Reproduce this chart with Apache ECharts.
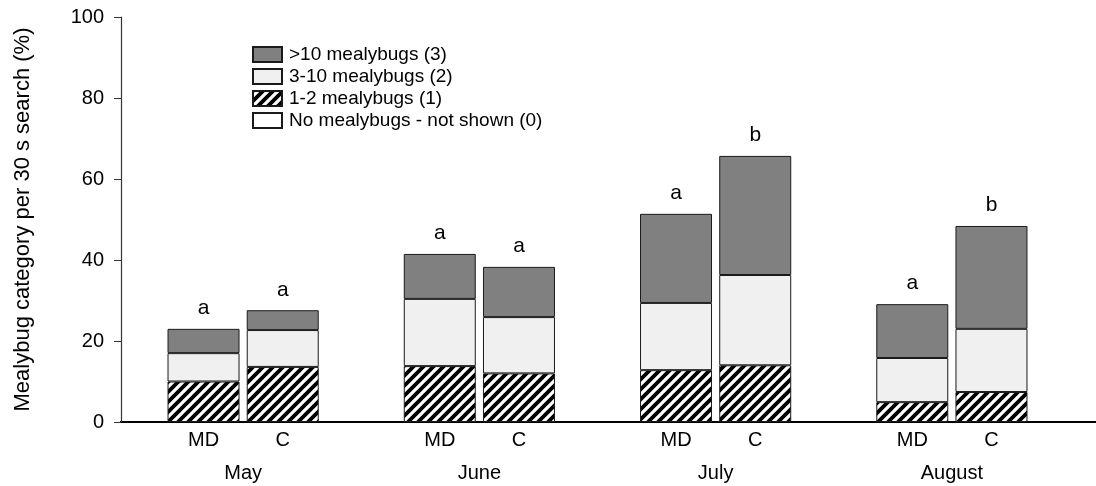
<!DOCTYPE html>
<html><head><meta charset="utf-8">
<script src="https://cdn.jsdelivr.net/npm/echarts@6/dist/echarts.min.js"></script>
<style>html,body{margin:0;padding:0;background:#fff}#c{width:1096px;height:486px}</style>
</head><body><div id="c"></div>
<script>
const months = ['May', 'June', 'July', 'August'];
const treatments = ['MD', 'C'];
// segment heights (%), stacked: 1-2, 3-10, >10
const mdOneTwo   = [10.0, 13.8, 12.8, 4.9];
const mdThreeTen = [7.0, 16.6, 16.6, 10.9];
const mdOverTen  = [6.0, 11.1, 22.0, 13.3];
const cOneTwo    = [13.6, 12.0, 14.0, 7.4];
const cThreeTen  = [9.1, 13.9, 22.3, 15.6];
const cOverTen   = [4.9, 12.4, 29.4, 25.4];
const mdLetters  = ['a', 'a', 'a', 'a'];
const cLetters   = ['a', 'a', 'b', 'b'];
const yTicks = [0, 20, 40, 60, 80, 100];
const legendNames = ['>10 mealybugs (3)', '3-10 mealybugs (2)', '1-2 mealybugs (1)', 'No mealybugs - not shown (0)'];

// hatch pattern
const tile = document.createElement('canvas');
tile.width = 10; tile.height = 10;
const g = tile.getContext('2d');
g.fillStyle = '#fff'; g.fillRect(0, 0, 10, 10);
g.strokeStyle = '#000'; g.lineWidth = 3.8;
g.beginPath();
g.moveTo(-5, 5); g.lineTo(5, -5);
g.moveTo(0, 10); g.lineTo(10, 0);
g.moveTo(5, 15); g.lineTo(15, 5);
g.stroke();
const hatch = { image: tile, repeat: 'repeat' };

const font = 'Liberation Sans, Arial, sans-serif';
const border = { borderColor: '#1a1a1a', borderWidth: 1 };

function seg(name, stack, data, color, extra) {
  return Object.assign({
    name: name, type: 'bar', stack: stack, data: data,
    barWidth: 72, barGap: '10%',
    itemStyle: Object.assign({ color: color }, border),
    emphasis: { disabled: true }
  }, extra || {});
}
function bottomLabel(txt) {
  return { label: { show: true, position: 'bottom', distance: 8, formatter: txt,
    fontFamily: font, fontSize: 20, color: '#000' } };
}
function topLabel(letters) {
  return { label: { show: true, position: 'top', distance: 10,
    formatter: p => letters[p.dataIndex], fontFamily: font, fontSize: 21, color: '#000' } };
}

const chart = echarts.init(document.getElementById('c'), null, { renderer: 'canvas' });
chart.setOption({
  animation: false,
  grid: { left: 125, right: 26, top: 17, bottom: 64 },
  legend: {
    data: [legendNames[0], legendNames[1], legendNames[2], legendNames[3]],
    orient: 'vertical', left: 252, top: 45, padding: 0,
    itemWidth: 29, itemHeight: 15, itemGap: 3,
    icon: 'rect',
    textStyle: { fontFamily: font, fontSize: 19, color: '#000', padding: [0, 0, 0, 2] },
    selectedMode: false
  },
  xAxis: {
    type: 'category', data: months,
    axisLine: { show: true, onZero: false, lineStyle: { color: '#000', width: 2 } },
    axisTick: { show: false },
    axisLabel: { margin: 41, fontFamily: font, fontSize: 20, color: '#000' }
  },
  yAxis: {
    type: 'value', min: 0, max: 100, interval: 20, offset: 4,
    name: 'Mealybug category per 30 s search (%)', nameLocation: 'middle', nameGap: 87,
    nameTextStyle: { fontFamily: font, fontSize: 22, color: '#000' },
    axisLine: { show: true, lineStyle: { color: '#333', width: 1.2 } },
    axisTick: { show: true, length: 7, lineStyle: { color: '#333' } },
    axisLabel: { margin: 17, fontFamily: font, fontSize: 20, color: '#000',
      formatter: v => yTicks.includes(v) ? String(v) : '' },
    splitLine: { show: false }
  },
  graphic: [
    { type: 'line', shape: { x1: 1066, y1: 422, x2: 1096, y2: 422 }, style: { stroke: '#000', lineWidth: 2 } },
    { type: 'line', shape: { x1: 120, y1: 422, x2: 127, y2: 422 }, style: { stroke: '#000', lineWidth: 2 } }
  ],
  series: [
    seg(legendNames[2], 'MD', mdOneTwo, hatch, bottomLabel(treatments[0])),
    seg(legendNames[1], 'MD', mdThreeTen, '#f0f0f0'),
    seg(legendNames[0], 'MD', mdOverTen, '#808080', topLabel(mdLetters)),
    seg(legendNames[2], 'C', cOneTwo, hatch, bottomLabel(treatments[1])),
    seg(legendNames[1], 'C', cThreeTen, '#f0f0f0'),
    seg(legendNames[0], 'C', cOverTen, '#808080', topLabel(cLetters)),
    seg(legendNames[3], 'MD', [], '#ffffff')
  ]
});
</script></body></html>
